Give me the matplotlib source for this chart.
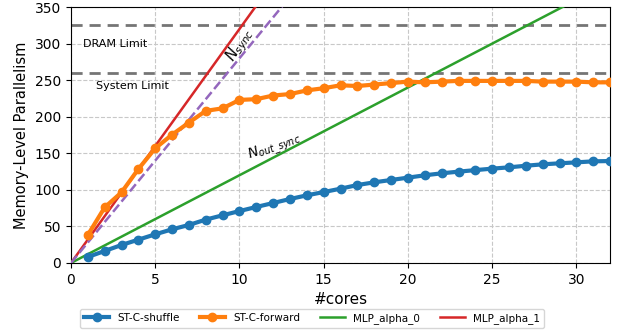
import matplotlib
matplotlib.use("Agg")
import matplotlib.pyplot as plt
import numpy as np

cores = list(range(1, 33))
st_c_shuffle = [8.2, 16.4, 24.6, 31.9, 39.2, 46, 52, 59.3, 65.2, 71, 76.6, 82, 87.5, 92.5, 97, 101.6,
                106.6, 110.3, 113.5, 116.7, 119.9, 122.6, 124.9, 127, 129, 130.8, 133, 134.9, 136.3,
                137.6, 139, 139.4]
st_c_forward = [38.3, 76, 96.6, 128.5, 156.8, 175.5, 192, 208, 211.5, 223, 224, 229, 231, 236, 239, 243,
                242, 244, 246, 248, 247, 248, 249, 249, 249, 249, 249, 248, 248, 248, 247, 247]
model_x = [0, 32]
alpha0_slope = 12
alpha1_slope = 32
sync_slope = 28
dram_limit = 325
system_limit = 260

fig = plt.figure(figsize=(6.31, 3.35), dpi=100)
ax = fig.add_axes([0.1125, 0.215, 0.8545, 0.764])

ax.axhline(dram_limit, color='#757575', linestyle='--', linewidth=2, dashes=(4, 2.5))
ax.axhline(system_limit, color='#757575', linestyle='--', linewidth=2, dashes=(4, 2.5))

ax.plot(cores, st_c_shuffle, color='#1f77b4', marker='o', markersize=6, linewidth=3, label='ST-C-shuffle', zorder=4)
ax.plot(cores, st_c_forward, color='#ff7f0e', marker='o', markersize=6, linewidth=3, label='ST-C-forward', zorder=4)
mx = np.array(model_x)
ax.plot(mx, alpha0_slope * mx, color='#2ca02c', linewidth=1.8, label='MLP_alpha_0', zorder=3)
ax.plot(mx, alpha1_slope * mx, color='#d62728', linewidth=1.8, label='MLP_alpha_1', zorder=3)
ax.plot(mx, sync_slope * mx, color='#9467bd', linewidth=1.8, linestyle='--', zorder=3)

ax.text(0.7, 300, 'DRAM Limit', fontsize=8, va='center', ha='left')
ax.text(1.5, 242, 'System Limit', fontsize=8, va='center', ha='left')
ax.text(10.05, 298, r'$N_{sync}$', fontsize=10.5, rotation=57, ha='center', va='center')
ax.text(12.1, 158, r'$N_{out\_sync}$', fontsize=10, rotation=20, ha='center', va='center')

ax.set_xlim(0, 32)
ax.set_ylim(0, 350)
ax.set_xticks([0, 5, 10, 15, 20, 25, 30])
ax.set_yticks(range(0, 351, 50))
ax.grid(True, linestyle='--', color='#c8c8c8', linewidth=0.8)
ax.set_axisbelow(True)
ax.set_xlabel('#cores', fontsize=11)
ax.set_ylabel('Memory-Level Parallelism', fontsize=10.5)
ax.tick_params(labelsize=10)

fig.legend(loc='lower center', bbox_to_anchor=(0.495, 0.005), ncol=4, fontsize=7.5, frameon=True,
           handlelength=2.4, columnspacing=1.9)
fig.savefig('out.png', dpi=100)
